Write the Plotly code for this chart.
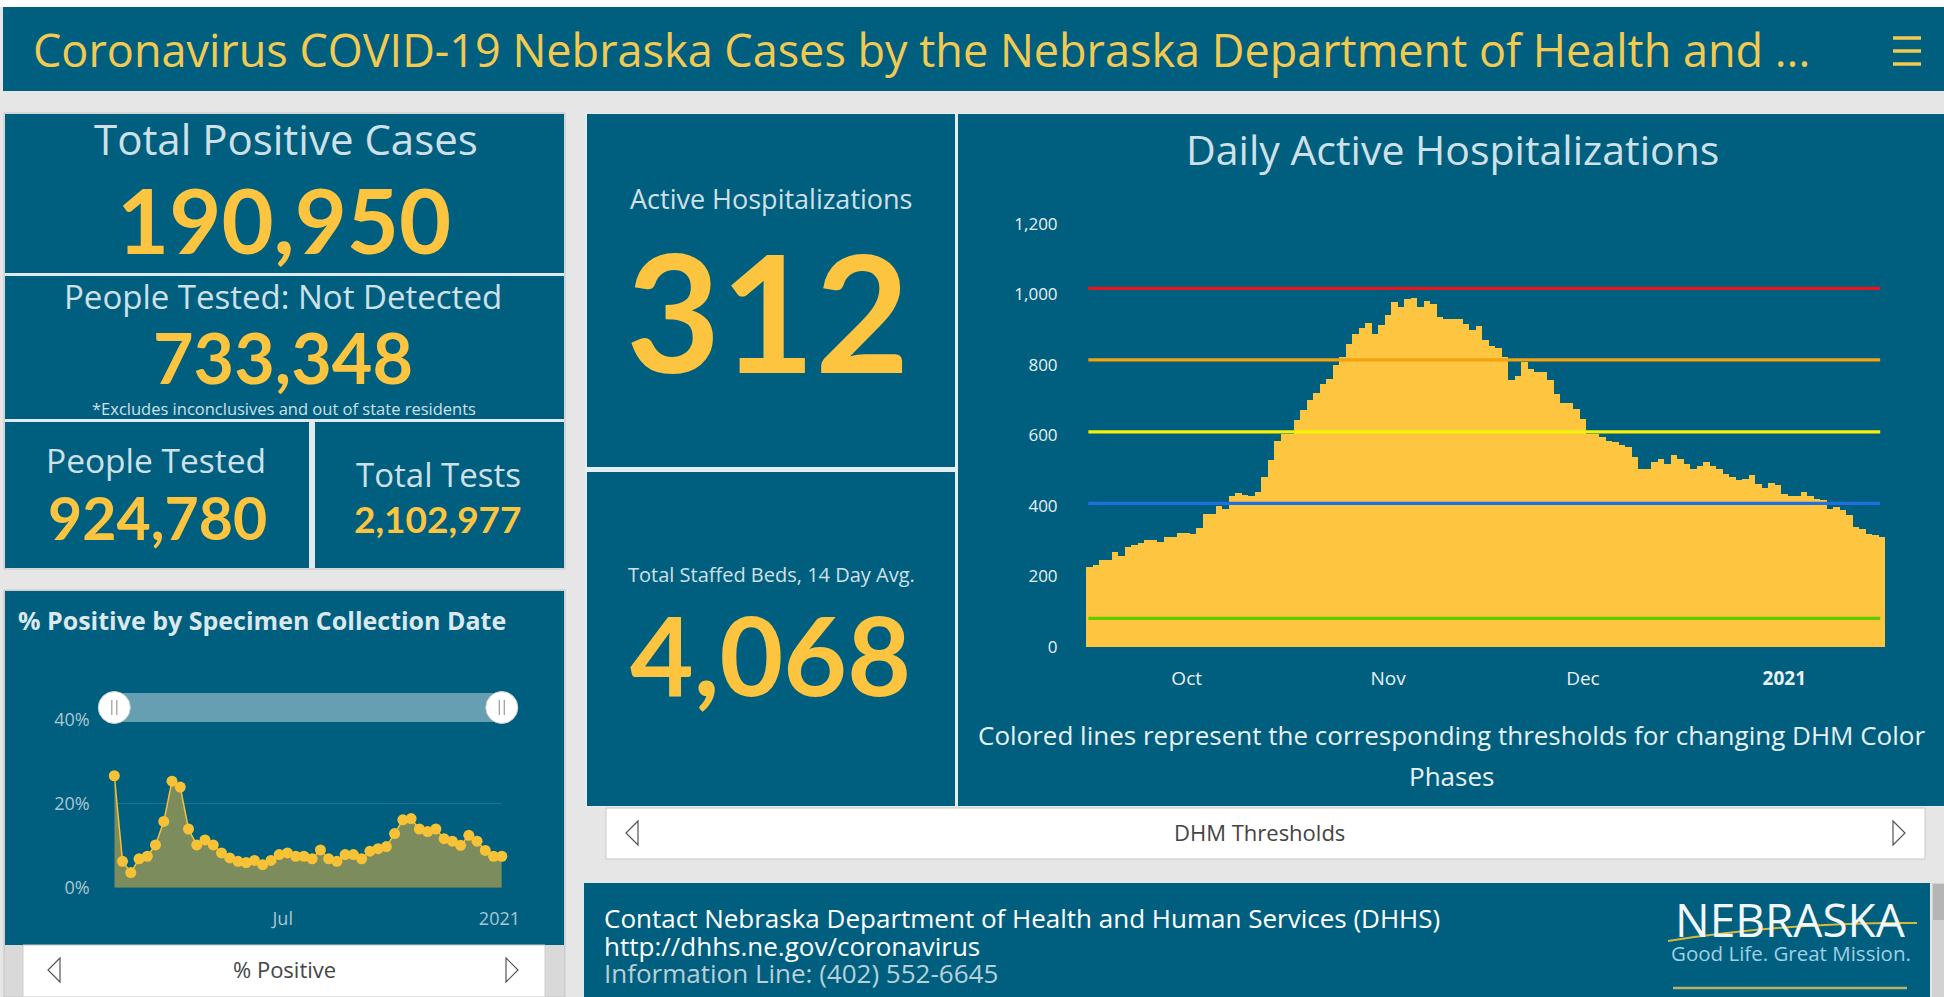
import plotly.graph_objects as go
import pandas as pd

W, H = 1944, 997

# ---------------- data ----------------
hosp_start = "2020-09-16"
hosp_values = [227, 232, 248, 248, 270, 260, 284, 291, 295, 303, 303, 298, 312, 312, 323, 323, 320, 338,
               378, 378, 399, 393, 428, 437, 433, 430, 440, 482, 530, 586, 605, 605, 643, 672, 700, 721,
               747, 761, 799, 823, 861, 889, 905, 919, 889, 915, 943, 979, 965, 986, 990, 965, 981, 974,
               936, 932, 932, 932, 917, 900, 910, 870, 854, 847, 823, 757, 768, 809, 790, 780, 780, 757,
               719, 692, 692, 676, 648, 605, 605, 596, 586, 582, 572, 568, 539, 506, 506, 525, 534, 520,
               544, 534, 520, 506, 515, 525, 515, 506, 492, 482, 473, 477, 487, 463, 452, 465, 459, 435,
               430, 430, 440, 430, 421, 416, 393, 397, 388, 374, 341, 336, 322, 317, 312]
hosp_tick_vals = ["2020-10-01", "2020-11-01", "2020-12-01", "2021-01-01"]
hosp_tick_text = ["Oct", "Nov", "Dec", "<b>2021</b>"]
hosp_y_ticks = [0, 200, 400, 600, 800, 1000, 1200]
thresholds = [1017, 814, 610, 407, 81]
threshold_colors = ["#e5161f", "#f2a30f", "#f5f20a", "#1f6fe0", "#5fcc00"]

pos_start = "2020-02-09"
pos_values = [26.7, 6.3, 3.6, 6.9, 7.5, 10.2, 15.8, 25.4, 24.0, 14.0, 10.2, 11.4, 10.2, 8.3, 7.1, 6.3,
              6.0, 6.5, 5.5, 6.5, 7.9, 8.3, 7.5, 7.5, 6.9, 9.0, 6.9, 6.3, 7.9, 7.9, 6.9, 8.7, 9.3, 9.8,
              12.9, 16.2, 16.5, 14.0, 13.4, 14.0, 11.7, 11.1, 10.1, 12.5, 11.1, 8.9, 7.5, 7.5]
pos_tick_vals = ["2020-07-01", "2021-01-01"]
pos_tick_text = ["Jul", "2021"]
pos_y_ticks = [0, 20, 40]
pos_y_tick_text = ["0%", "20%", "40%"]

total_positive = 190950
not_detected = 733348
people_tested = 924780
total_tests = 2102977
active_hosp = 312
staffed_beds = 4068

hosp_dates = pd.date_range(hosp_start, periods=len(hosp_values), freq="D")
pos_dates = pd.date_range(pos_start, periods=len(pos_values), freq="7D")

# ---------------- styling ----------------
FONT = "Open Sans"
NUMFONT = "Lato"
TEAL = "#005f7f"
YEL = "#fdc43f"
HYEL = "#f3ca4f"
LIGHT = "#cfe0e8"
BG = "#e6e6e6"


def X(p):
    return p / W


def Y(p):
    return 1 - p / H


shapes = []
ann = []


def rect(x0, y0, x1, y1, fill, line_color=None, lw=1, layer="below"):
    shapes.append(dict(type="rect", xref="paper", yref="paper", x0=X(x0), x1=X(x1), y0=Y(y1), y1=Y(y0),
                       fillcolor=fill, layer=layer,
                       line=dict(width=lw if line_color else 0, color=line_color or "rgba(0,0,0,0)")))


def hline(x0, x1, y, color, width, layer="above"):
    shapes.append(dict(type="line", xref="paper", yref="paper", x0=X(x0), x1=X(x1), y0=Y(y), y1=Y(y),
                       line=dict(color=color, width=width), layer=layer))


def text(x, y, s, size, color, xanchor="center", family=FONT):
    ann.append(dict(xref="paper", yref="paper", x=X(x), y=Y(y), text=s, showarrow=False,
                    xanchor=xanchor, yanchor="middle", font=dict(size=size, color=color, family=family)))


def tri(x, y, direction):
    s = -1 if direction == "left" else 1
    pts = [(x - 6 * s, y - 12), (x + 6 * s, y), (x - 6 * s, y + 12)]
    path = "M {} {} L {} {} L {} {} Z".format(X(pts[0][0]), Y(pts[0][1]), X(pts[1][0]), Y(pts[1][1]),
                                              X(pts[2][0]), Y(pts[2][1]))
    shapes.append(dict(type="path", xref="paper", yref="paper", path=path, fillcolor="rgba(0,0,0,0)",
                       line=dict(color="#555555", width=1.2), layer="above"))


# page skeleton
rect(0, 0, W, 7, "white")
rect(3, 7, W, 91, TEAL)
for yy in (38, 51, 64):
    hline(1893, 1921, yy, HYEL, 3.5)

# left KPI group
rect(4, 113, 565, 569, "#dfeaee", "#c4c4c4")
rect(5, 114, 564, 273, TEAL)
rect(5, 276, 564, 419, TEAL)
rect(5, 422, 309, 568, TEAL)
rect(315, 422, 564, 568, TEAL)

# % positive panel
rect(4, 590, 565, 997, "#d9d9d9", "#c4c4c4")
rect(5, 591, 564, 945, TEAL)
rect(23, 945, 545, 997, "white", "#cccccc")

# middle + right
rect(585, 113, W, 807, "#e3eef2")
rect(587, 114, 955, 467, TEAL)
rect(587, 472, 955, 806, TEAL)
rect(958, 114, W, 806, TEAL)
rect(606, 808, 1925, 859, "white", "#c8c8c8")

# footer
rect(584, 883, 1930, 997, TEAL)
rect(1932, 883, W, 997, "#d2d2d2")
rect(1933, 884, W, 920, "#b5b5b5")

# slider over % positive chart
rect(114, 693, 502, 722, "rgba(255,255,255,0.40)", layer="above")
for cx in (114.3, 501.8):
    shapes.append(dict(type="circle", xref="paper", yref="paper", x0=X(cx - 16), x1=X(cx + 16),
                       y0=Y(707.5 + 16), y1=Y(707.5 - 16), fillcolor="white",
                       line=dict(color="#d0d0d0", width=1), layer="above"))
    for dx in (-2.5, 2.5):
        shapes.append(dict(type="line", xref="paper", yref="paper", x0=X(cx + dx), x1=X(cx + dx),
                           y0=Y(700), y1=Y(715), line=dict(color="#9a9a9a", width=1.2), layer="above"))

# threshold lines on hospitalization chart
for val, col in zip(thresholds, threshold_colors):
    shapes.append(dict(type="line", xref="x domain", yref="y", x0=0.003, x1=0.994, y0=val, y1=val,
                       line=dict(color=col, width=3.2), layer="above"))

# logo swoosh + underline
shapes.append(dict(type="path", xref="paper", yref="paper",
                   path="M {} {} Q {} {} {} {}".format(X(1668), Y(941), X(1790), Y(922), X(1917), Y(923)),
                   line=dict(color="#d7b93a", width=2), layer="above"))
hline(1673, 1907, 988, "#b9b36a", 2.5)

# arrows
tri(632, 833, "left")
tri(1899, 833, "right")
tri(54, 970, "left")
tri(512, 970, "right")

# ---------------- texts ----------------
text(31, 50, "Coronavirus COVID-19 Nebraska Cases by the Nebraska Department of Health and ...", 45, HYEL,
     xanchor="left")

text(286, 139, "Total Positive Cases", 42, LIGHT)
text(284, 219, "<b>{:,}</b>".format(total_positive), 90, YEL, family=NUMFONT)
text(283, 296, "People Tested: Not Detected", 33, LIGHT)
text(283, 357, "<b>{:,}</b>".format(not_detected), 70, YEL, family=NUMFONT)
text(284, 408, "*Excludes inconclusives and out of state residents", 16.5, LIGHT)
text(156, 460, "People Tested", 33.5, LIGHT)
text(157, 517, "<b>{:,}</b>".format(people_tested), 59, YEL, family=NUMFONT)
text(438, 474, "Total Tests", 33, LIGHT)
text(438, 518, "<b>{:,}</b>".format(total_tests), 37, YEL, family=NUMFONT)

text(16, 620, "<b>% Positive by Specimen Collection Date</b>", 25, "#dbe8ee", xanchor="left")
text(284, 969, "% Positive", 22, "#444444")

text(771, 199, "Active Hospitalizations", 27, LIGHT)
text(768, 310, "<b>{:,}</b>".format(active_hosp), 163, YEL, family=NUMFONT)
text(771, 574, "Total Staffed Beds, 14 Day Avg.", 20, LIGHT)
text(770, 653, "<b>{:,}</b>".format(staffed_beds), 110, YEL, family=NUMFONT)

text(1452, 149, "Daily Active Hospitalizations", 41, LIGHT)
text(1451, 735, "Colored lines represent the corresponding thresholds for changing DHM Color", 26, "#e8f0f3")
text(1451, 776, "Phases", 26, "#e8f0f3")
text(1259, 832, "DHM Thresholds", 22, "#444444")

text(602, 918, "Contact Nebraska Department of Health and Human Services (DHHS)", 26, "white", xanchor="left")
text(602, 946, "http://dhhs.ne.gov/coronavirus", 26, "white", xanchor="left")
text(602, 973, "Information Line: (402) 552-6645", 26, "#b9cfd8", xanchor="left")
text(1790, 919, "NEBRASKA", 46, "#f2f6f8")
text(1791, 953, "Good Life. Great Mission.", 20.5, "#9fd0e2")

# ---------------- traces ----------------
fig = go.Figure()
fig.add_trace(go.Bar(x=hosp_dates, y=hosp_values, marker=dict(color="#fec540", line=dict(width=0)),
                     xaxis="x", yaxis="y", hoverinfo="x+y"))
fig.add_trace(go.Scatter(x=pos_dates, y=pos_values, mode="lines+markers", fill="tozeroy",
                         fillcolor="#7d8c5d", line=dict(color="#f7c236", width=1.5),
                         marker=dict(size=11, color="#f7c236"), cliponaxis=False,
                         xaxis="x2", yaxis="y2"))

fig.update_layout(
    width=W, height=H, autosize=False, margin=dict(l=0, r=0, t=0, b=0, pad=0, autoexpand=False),
    paper_bgcolor=BG, plot_bgcolor="rgba(0,0,0,0)", showlegend=False, bargap=0,
    font=dict(family=FONT),
    shapes=shapes, annotations=ann,
    xaxis=dict(domain=[X(1086), X(1885)], type="date", automargin=False,
               range=["2020-09-15 12:00", "2021-01-16 12:00"],
               tickvals=hosp_tick_vals, ticktext=hosp_tick_text, ticks="outside", ticklen=14,
               tickcolor="rgba(0,0,0,0)", showgrid=False, zeroline=False, showline=False,
               tickfont=dict(family=FONT, size=19, color="#e8f0f3")),
    yaxis=dict(domain=[Y(647), Y(223.8)], range=[0, 1200], tickvals=hosp_y_ticks, tickformat=",",
               automargin=False,
               ticks="outside", ticklen=24, tickcolor="rgba(0,0,0,0)", showgrid=False,
               zeroline=False, showline=False, tickfont=dict(family=FONT, size=17, color="#e8f0f3")),
    xaxis2=dict(domain=[X(114.3), X(501.8)], type="date", anchor="y2", automargin=False,
                range=[pos_dates[0], pos_dates[-1]],
                tickvals=pos_tick_vals, ticktext=pos_tick_text, ticks="outside", ticklen=15,
                tickcolor="rgba(0,0,0,0)", showgrid=False, zeroline=False, showline=False,
                tickfont=dict(family=FONT, size=18, color="#a9c6d2")),
    yaxis2=dict(domain=[Y(887.7), Y(720)], range=[0, 40], anchor="x2", tickvals=pos_y_ticks,
                automargin=False,
                ticktext=pos_y_tick_text, ticks="outside", ticklen=20, tickcolor="rgba(0,0,0,0)",
                showgrid=True, gridcolor="rgba(255,255,255,0.13)", zeroline=False, showline=False,
                tickfont=dict(family=FONT, size=18, color="#a9c6d2")),
)

fig.write_html(
    "out.html",
    config={"displayModeBar": False, "responsive": False},
    post_script=("var d=document.getElementById('{plot_id}');"
                 "document.documentElement.style.margin='0';document.documentElement.style.padding='0';"
                 "document.documentElement.style.overflow='hidden';"
                 "document.body.style.margin='0';document.body.style.padding='0';"
                 "document.body.style.overflow='hidden';"
                 "d.style.position='fixed';d.style.left='0px';d.style.top='0px';"),
)
